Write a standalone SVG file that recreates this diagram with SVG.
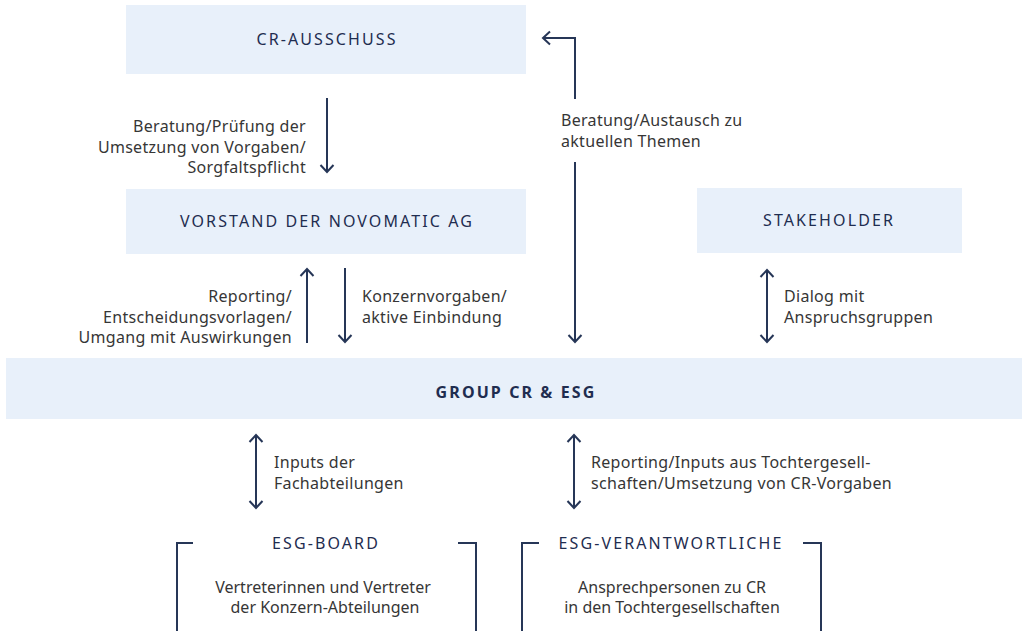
<svg xmlns="http://www.w3.org/2000/svg" width="1022" height="631" viewBox="0 0 1022 631">
<style>
.box{fill:#E8F0FA}
.title{font-family:"Noto Sans","Open Sans",sans-serif;font-size:16px;fill:#1F2D50;letter-spacing:2.1px;text-anchor:middle}
.bold{font-weight:bold;letter-spacing:2.1px}
.lbl{font-family:"Noto Sans","Open Sans",sans-serif;font-size:16px;fill:#363636;letter-spacing:0.3px}
.body{letter-spacing:0}
.r{text-anchor:end}
.m{text-anchor:middle}
.ln{fill:none;stroke:#263657;stroke-width:2}
</style>
<defs>
<marker id="ah" markerUnits="userSpaceOnUse" viewBox="-9 -8 11 16" markerWidth="11" markerHeight="16" refX="0" refY="0" orient="auto-start-reverse">
<path d="M-7,-6.5 L0,0 L-7,6.5" fill="none" stroke="#263657" stroke-width="2"/>
</marker>
</defs>
<g id="cr-ausschuss"><rect class="box" x="126" y="5" width="400" height="69"/><text class="title" x="327" y="45">CR-AUSSCHUSS</text></g>
<g id="vorstand"><rect class="box" x="126" y="189" width="400" height="65"/><text class="title" x="327" y="227">VORSTAND DER NOVOMATIC AG</text></g>
<g id="stakeholder"><rect class="box" x="697" y="188" width="265" height="65"/><text class="title" x="829" y="226">STAKEHOLDER</text></g>
<g id="group"><rect class="box" x="6" y="358" width="1016" height="61"/><text class="title bold" x="516" y="398">GROUP CR &amp; ESG</text></g>
<g id="esg-board">
<path class="ln" d="M193,543 H177 V631 M458,543 H476 V631"/>
<text class="title" x="326" y="549">ESG-BOARD</text>
<text class="lbl body m" x="323" y="593">Vertreterinnen und Vertreter</text>
<text class="lbl body m" x="325" y="613">der Konzern-Abteilungen</text>
</g>
<g id="esg-verantwortliche">
<path class="ln" d="M539,543 H522 V631 M803,543 H821 V631"/>
<text class="title" x="671" y="549">ESG-VERANTWORTLICHE</text>
<text class="lbl body m" x="672" y="593">Ansprechpersonen zu CR</text>
<text class="lbl body m" x="672" y="613">in den Tochtergesellschaften</text>
</g>
<g id="connectors">
<path class="ln" d="M327,98 V172" marker-end="url(#ah)"/>
<path class="ln" d="M575,99 V38 H543" marker-end="url(#ah)"/>
<path class="ln" d="M575,162 V342" marker-end="url(#ah)"/>
<path class="ln" d="M307,343 V269" marker-end="url(#ah)"/>
<path class="ln" d="M345,268 V342" marker-end="url(#ah)"/>
<path class="ln" d="M767,270 V342" marker-start="url(#ah)" marker-end="url(#ah)"/>
<path class="ln" d="M256,435 V508" marker-start="url(#ah)" marker-end="url(#ah)"/>
<path class="ln" d="M574,435 V508" marker-start="url(#ah)" marker-end="url(#ah)"/>
</g>
<g id="labels">
<text class="lbl r" x="306" y="132">Beratung/Prüfung der</text>
<text class="lbl r" x="306" y="153">Umsetzung von Vorgaben/</text>
<text class="lbl r" x="306" y="173">Sorgfaltspflicht</text>
<text class="lbl" x="561" y="126">Beratung/Austausch zu</text>
<text class="lbl" x="561" y="147">aktuellen Themen</text>
<text class="lbl r" x="292" y="302">Reporting/</text>
<text class="lbl r" x="292" y="323">Entscheidungsvorlagen/</text>
<text class="lbl r" x="292" y="343">Umgang mit Auswirkungen</text>
<text class="lbl" x="362" y="302">Konzernvorgaben/</text>
<text class="lbl" x="362" y="323">aktive Einbindung</text>
<text class="lbl" x="784" y="302">Dialog mit</text>
<text class="lbl" x="784" y="323">Anspruchsgruppen</text>
<text class="lbl" x="274" y="468">Inputs der</text>
<text class="lbl" x="274" y="489">Fachabteilungen</text>
<text class="lbl" x="591" y="468">Reporting/Inputs aus Tochtergesell-</text>
<text class="lbl" x="591" y="489">schaften/Umsetzung von CR-Vorgaben</text>
</g>
</svg>
